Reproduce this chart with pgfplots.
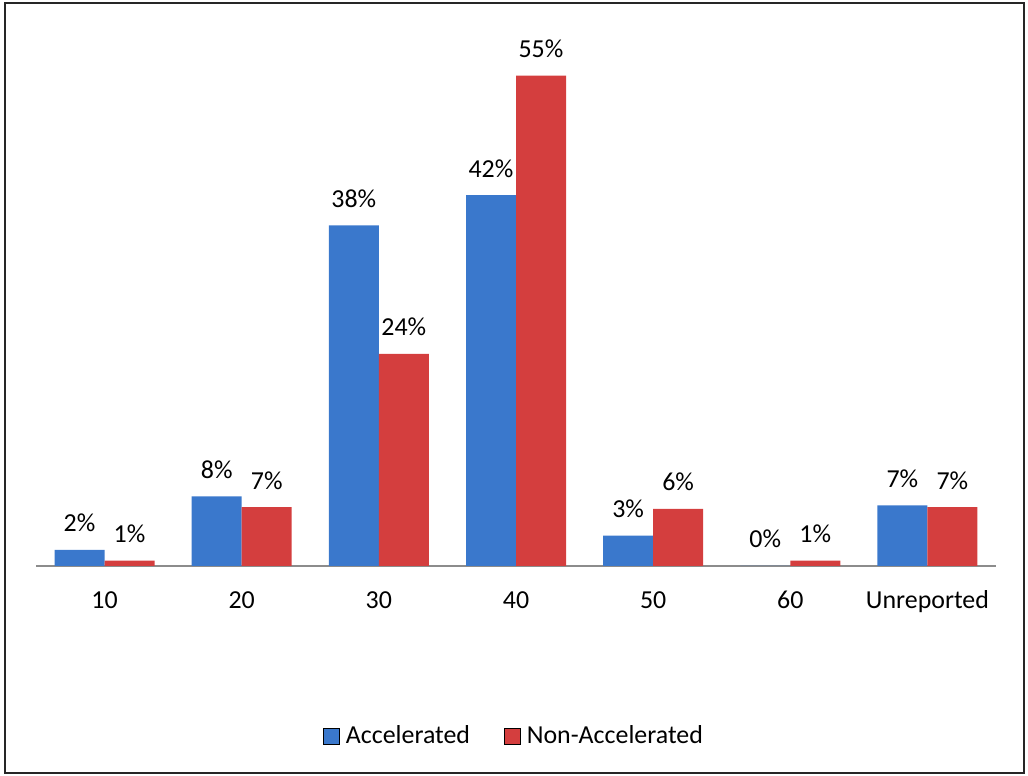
\documentclass[border=0pt]{standalone}
\usepackage{pgfplots}
\pgfplotsset{compat=1.18}
\usepackage{fontspec}
\setmainfont{Carlito}

\definecolor{accBlue}{RGB}{58,120,204}
\definecolor{accBlueDk}{RGB}{34,80,146}
\definecolor{nonRed}{RGB}{212,62,62}
\definecolor{nonRedDk}{RGB}{140,34,34}

\begin{document}
\fontsize{26}{31}\selectfont
\begin{tikzpicture}
\path[use as bounding box] (0bp,0bp) rectangle (1028bp,776bp);
\draw[line width=2bp, black!85] (5bp,3bp) rectangle (1024bp,773bp);
\begin{axis}[
  at={(36bp,210bp)}, anchor=south west,
  scale only axis, width=960bp, height=535bp,
  xmin=-0.5, xmax=6.5, ymin=0, ymax=60,
  ybar=0pt, bar width=50bp,
  axis y line=none, axis x line*=bottom,
  axis line style={black!45, line width=1.5bp, -},
  xtick={0,1,2,3,4,5,6},
  xticklabels={10,20,30,40,50,60,Unreported},
  major tick length=0pt,
  xticklabel style={anchor=base, yshift=-43bp, font=\fontsize{26}{31}\selectfont},
  point meta=y,
  nodes near coords={\pgfmathprintnumber[fixed,precision=0]{\pgfplotspointmeta}\%},
  nodes near coords style={anchor=base, yshift=18bp, inner sep=0pt, black,
    font=\fontsize{26}{31}\selectfont},
  /pgf/number format/assume math mode=true,
  clip=false,
  legend columns=2,
  legend style={at={(0.5,-0.318)}, anchor=center, draw=none, fill=none,
    font=\fontsize{26}{31}\selectfont,
    nodes={inner xsep=6bp},
    /tikz/every even column/.append style={column sep=28bp}},
  every axis plot post/.append style={
    /pgfplots/legend image code/.code={\fill[##1] (0bp,-8bp) rectangle (16bp,8bp);
      \draw[##1, line width=0.8bp] (0bp,-8bp) rectangle (16bp,8bp);}},
]
% Accelerated
\addplot[fill=accBlue, draw=none]
  coordinates {(0,1.8) (1,7.8) (2,38.2) (3,41.6) (4,3.4) (5,0) (6,6.8)};
% Non-Accelerated
\addplot[fill=nonRed, draw=none]
  coordinates {(0,0.6) (1,6.6) (2,23.8) (3,55) (4,6.4) (5,0.6) (6,6.6)};
\legend{Accelerated, Non-Accelerated}
\end{axis}
\end{tikzpicture}
\end{document}
